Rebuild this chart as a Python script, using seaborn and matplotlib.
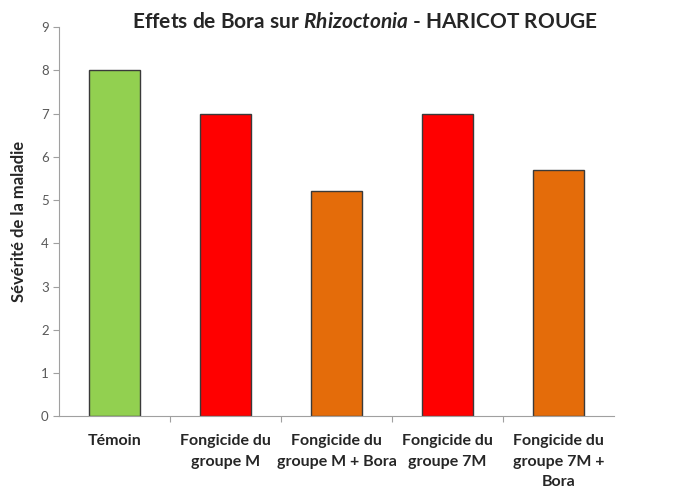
import numpy as np
import pandas as pd
import matplotlib.pyplot as plt
import seaborn as sns

# data
traitements = ['Témoin', 'Fongicide du\ngroupe M', 'Fongicide du\ngroupe M + Bora',
               'Fongicide du\ngroupe 7M', 'Fongicide du\ngroupe 7M +\nBora']
severite = [8.0, 7.0, 5.2, 7.0, 5.7]
couleurs = ['#92D050', '#FF0000', '#E46C0A', '#FF0000', '#E46C0A']

df = pd.DataFrame({'Traitement': traitements, 'Severite': severite})

sns.set_style('white')
plt.rcParams['font.family'] = ['Lato', 'DejaVu Sans']
plt.rcParams['mathtext.fontset'] = 'custom'
plt.rcParams['mathtext.it'] = 'Lato:italic:bold'
plt.rcParams['mathtext.rm'] = 'Lato:bold'

fig = plt.figure(figsize=(6.79, 4.92), dpi=100)
ax = fig.add_axes([0.087, 0.154, 0.817, 0.791])

sns.barplot(data=df, x='Traitement', y='Severite', hue='Traitement',
            palette=couleurs, saturation=1, width=0.46, edgecolor='#3a3a3a',
            linewidth=1.0, legend=False, ax=ax)

ax.set_ylim(0, 9)
ax.set_xlim(-0.5, len(traitements) - 0.5)
ax.set_yticks(range(0, 10))
ax.tick_params(axis='y', labelsize=9.5, labelcolor='#595959', color='#a0a0a0',
               length=4, width=0.8, direction='out', left=True)
ax.tick_params(axis='x', which='major', length=0, labelsize=11.5, pad=13)
ax.set_xticks(np.arange(len(traitements) - 1) + 0.5, minor=True)
ax.tick_params(axis='x', which='minor', length=4, width=0.8, color='#a0a0a0',
               direction='out', bottom=True)
for lab in ax.get_xticklabels():
    lab.set_fontweight('bold')
    lab.set_linespacing(1.6)

for side in ['top', 'right']:
    ax.spines[side].set_visible(False)
for side in ['left', 'bottom']:
    ax.spines[side].set_color('#a0a0a0')
    ax.spines[side].set_linewidth(0.8)

ax.set_xlabel('')
ax.set_ylabel('Sévérité de la maladie', fontsize=12, fontweight='bold', labelpad=10)

fig.text(0.538, 0.955, r'Effets de Bora sur $\it{Rhizoctonia}$ - HARICOT ROUGE',
         ha='center', va='center', fontsize=15, fontweight='bold')

fig.savefig('out.png', dpi=100)
plt.close(fig)
